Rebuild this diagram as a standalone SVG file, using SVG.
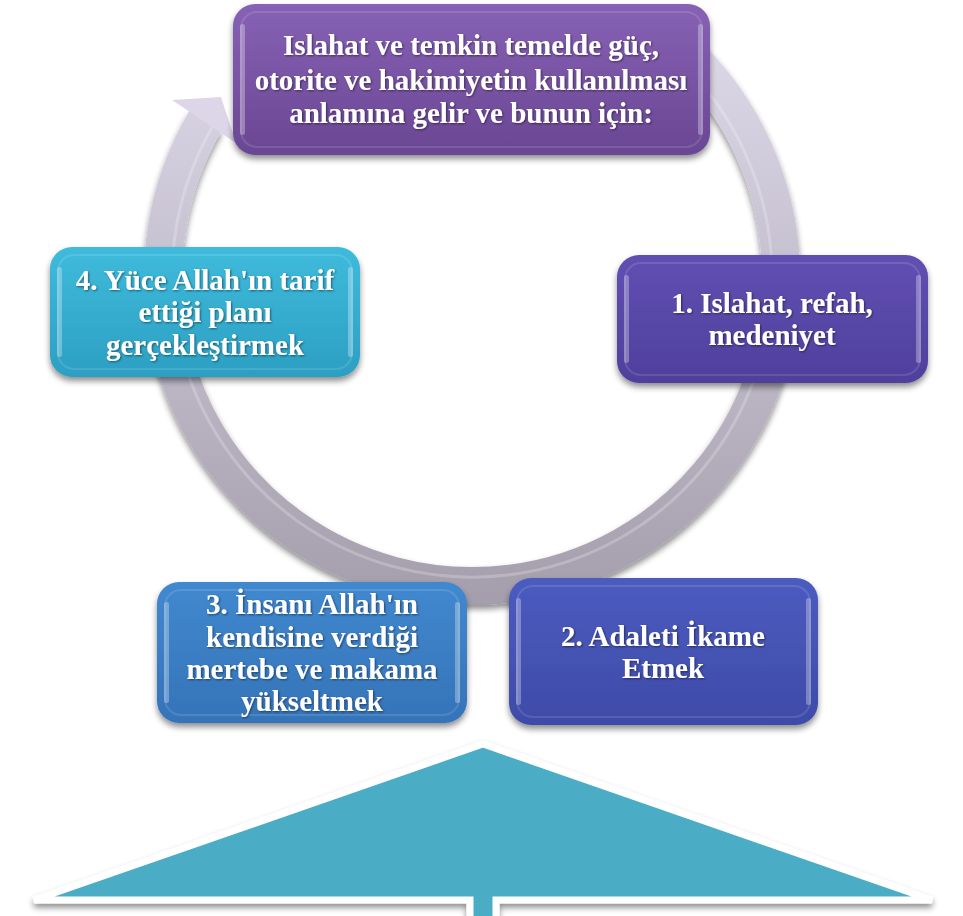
<svg xmlns="http://www.w3.org/2000/svg" width="963" height="916" viewBox="0 0 963 916">
<defs>
<style>
.t{font-family:"Liberation Serif","Times New Roman",serif;font-weight:bold;font-size:29px;fill:#ffffff;text-anchor:middle}
.hl{fill:none;stroke:#ffffff;stroke-opacity:0.12;stroke-width:2}
.gl{fill:#ffffff;fill-opacity:0.3}
</style>
<filter id="sh" x="-10%" y="-10%" width="120%" height="130%">
<feGaussianBlur in="SourceAlpha" stdDeviation="3"/>
<feOffset dy="4" result="b"/>
<feComponentTransfer><feFuncA type="linear" slope="0.45"/></feComponentTransfer>
<feMerge><feMergeNode/><feMergeNode in="SourceGraphic"/></feMerge>
</filter>
<filter id="tsh" x="-5%" y="-10%" width="110%" height="130%">
<feGaussianBlur in="SourceAlpha" stdDeviation="1"/>
<feOffset dx="1" dy="1"/>
<feComponentTransfer><feFuncA type="linear" slope="0.5"/></feComponentTransfer>
<feMerge><feMergeNode/><feMergeNode in="SourceGraphic"/></feMerge>
</filter>
<linearGradient id="ring" gradientUnits="userSpaceOnUse" x1="0" y1="-50" x2="0" y2="606">
<stop offset="0" stop-color="#e6e1f1"/>
<stop offset="1" stop-color="#a49eac"/>
</linearGradient>
<linearGradient id="g0" x1="0" y1="0" x2="0" y2="1"><stop offset="0" stop-color="#8762b5"/><stop offset="1" stop-color="#6a4693"/></linearGradient>
<linearGradient id="g1" x1="0" y1="0" x2="0" y2="1"><stop offset="0" stop-color="#6150b2"/><stop offset="1" stop-color="#4f3f9c"/></linearGradient>
<linearGradient id="g2" x1="0" y1="0" x2="0" y2="1"><stop offset="0" stop-color="#4c5bbf"/><stop offset="1" stop-color="#3e4ba8"/></linearGradient>
<linearGradient id="g3" x1="0" y1="0" x2="0" y2="1"><stop offset="0" stop-color="#4189cf"/><stop offset="1" stop-color="#3573b8"/></linearGradient>
<linearGradient id="g4" x1="0" y1="0" x2="0" y2="1"><stop offset="0" stop-color="#3fbbdc"/><stop offset="1" stop-color="#2c9fc2"/></linearGradient>
</defs>
<rect width="963" height="916" fill="#ffffff"/>

<g id="connectors">
<path d="M690.5,58.5 A309,309 0 1 1 205.8,120.2" fill="none" stroke="url(#ring)" stroke-width="38" filter="url(#sh)"/>
<path d="M684.1,64.9 A300,300 0 1 1 213.6,124.8" fill="none" stroke="#ffffff" stroke-opacity="0.22" stroke-width="3"/>
<polygon points="172,100 221,97 236,143" fill="#dcd6e8"/>
</g>

<g id="base">
<polygon points="483,744 932,900 496,900 496,920 470,920 470,900 34,900" fill="#4bacc6" stroke="#ffffff" stroke-width="7" stroke-linejoin="miter" filter="url(#sh)"/>
</g>

<g id="node0" filter="url(#sh)">
<rect x="233" y="4" width="477" height="151" rx="22" fill="url(#g0)"/>
<rect x="241" y="12" width="461" height="135" rx="16" class="hl"/>
<rect x="240" y="24" width="5" height="111" rx="2.5" class="gl"/>
<rect x="698" y="24" width="5" height="111" rx="2.5" class="gl"/>
</g>
<g filter="url(#tsh)">
<text class="t" x="471" y="55">Islahat ve temkin temelde güç,</text>
<text class="t" x="471" y="90">otorite ve hakimiyetin kullanılması</text>
<text class="t" x="471" y="123">anlamına gelir ve bunun için:</text>
</g>

<g id="node1" filter="url(#sh)">
<rect x="617" y="255" width="311" height="128" rx="22" fill="url(#g1)"/>
<rect x="625" y="263" width="295" height="112" rx="16" class="hl"/>
<rect x="624" y="275" width="5" height="88" rx="2.5" class="gl"/>
<rect x="916" y="275" width="5" height="88" rx="2.5" class="gl"/>
</g>
<g filter="url(#tsh)">
<text class="t" x="772" y="313">1. Islahat, refah,</text>
<text class="t" x="772" y="345">medeniyet</text>
</g>

<g id="node2" filter="url(#sh)">
<rect x="509" y="578" width="309" height="147" rx="22" fill="url(#g2)"/>
<rect x="517" y="586" width="293" height="131" rx="16" class="hl"/>
<rect x="516" y="598" width="5" height="107" rx="2.5" class="gl"/>
<rect x="806" y="598" width="5" height="107" rx="2.5" class="gl"/>
</g>
<g filter="url(#tsh)">
<text class="t" x="663" y="646">2. Adaleti İkame</text>
<text class="t" x="663" y="678">Etmek</text>
</g>

<g id="node3" filter="url(#sh)">
<rect x="157" y="582" width="310" height="141" rx="22" fill="url(#g3)"/>
<rect x="165" y="590" width="294" height="125" rx="16" class="hl"/>
<rect x="164" y="602" width="5" height="101" rx="2.5" class="gl"/>
<rect x="455" y="602" width="5" height="101" rx="2.5" class="gl"/>
</g>
<g filter="url(#tsh)">
<text class="t" x="312" y="614">3. İnsanı Allah'ın</text>
<text class="t" x="312" y="647">kendisine verdiği</text>
<text class="t" x="312" y="679">mertebe ve makama</text>
<text class="t" x="312" y="711">yükseltmek</text>
</g>

<g id="node4" filter="url(#sh)">
<rect x="50" y="247" width="310" height="130" rx="22" fill="url(#g4)"/>
<rect x="58" y="255" width="294" height="114" rx="16" class="hl"/>
<rect x="57" y="267" width="5" height="90" rx="2.5" class="gl"/>
<rect x="348" y="267" width="5" height="90" rx="2.5" class="gl"/>
</g>
<g filter="url(#tsh)">
<text class="t" x="205" y="290">4. Yüce Allah'ın tarif</text>
<text class="t" x="205" y="322">ettiği planı</text>
<text class="t" x="205" y="355">gerçekleştirmek</text>
</g>
</svg>
